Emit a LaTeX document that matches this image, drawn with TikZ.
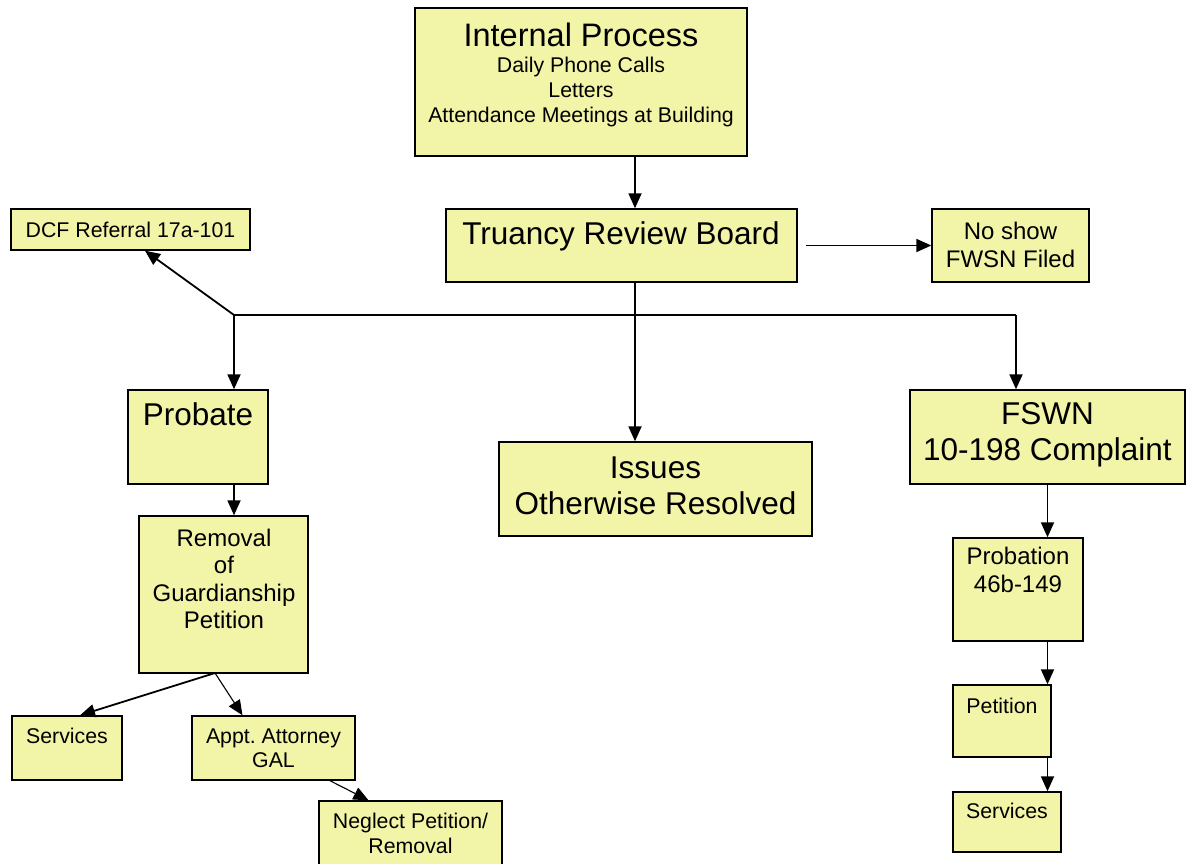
\documentclass[tikz,border=0pt]{standalone}
\usepackage{fontspec}
\setmainfont{Liberation Sans}
\usepackage{xcolor}
\usetikzlibrary{arrows.meta}
\definecolor{boxfill}{RGB}{242,244,168}
\newcommand{\fbig}{\fontsize{31.5}{35.5}\selectfont}
\newcommand{\fmid}{\fontsize{24}{27.5}\selectfont}
\newcommand{\fsml}{\fontsize{21.3}{24.5}\selectfont}
\tikzset{
  box/.style={draw=black, fill=boxfill, line width=1.4pt, inner sep=0pt},
  txt/.style={align=center, inner sep=0pt},
  arr/.style={line width=1.8pt, -{Triangle[length=15pt,width=13pt]}},
  thinarr/.style={line width=1.1pt, -{Triangle[length=15pt,width=13pt]}}
}

\begin{document}
\begin{tikzpicture}[x=1pt, y=-1pt]
    \useasboundingbox[fill=white] (0,0) rectangle (1188,864);
    % boxes
    \node[box, minimum width=332, minimum height=148] (internal) at (581,82) {};
    \node[box, minimum width=351, minimum height=73] (trb) at (621.5,245.5) {};
    \node[box, minimum width=239, minimum height=41] (dcf) at (130.5,229.5) {};
    \node[box, minimum width=157, minimum height=73] (noshow) at (1010.5,245.5) {};
    \node[box, minimum width=140, minimum height=94] (probate) at (198,437) {};
    \node[box, minimum width=313, minimum height=94] (issues) at (655.5,489) {};
    \node[box, minimum width=275, minimum height=94] (fswn) at (1047.5,437) {};
    \node[box, minimum width=169, minimum height=157] (removal) at (223.5,594.5) {};
    \node[box, minimum width=130, minimum height=103] (probation) at (1018,589.5) {};
    \node[box, minimum width=98, minimum height=72] (petition) at (1002,721) {};
    \node[box, minimum width=108, minimum height=60] (servR) at (1007,822) {};
    \node[box, minimum width=110, minimum height=64] (servL) at (67,748) {};
    \node[box, minimum width=163, minimum height=64] (appt) at (273.5,748) {};
    \node[box, minimum width=183, minimum height=65] (neglect) at (410.5,833.5) {};

    % texts
    \node[txt, font=\fontsize{21.3}{25}\selectfont, anchor=north] (internal-t) at (581,23)
      {{\fontsize{32.5}{33}\selectfont Internal Process}\\[1pt]
       Daily Phone Calls\\ Letters\\ Attendance Meetings at Building};
    \node[txt, font=\fbig] (trb-t) at (621,236) {Truancy Review Board};
    \node[txt, font=\fsml] (dcf-t) at (130.5,229.5) {DCF Referral 17a-101};
    \node[txt, font=\fmid] (noshow-t) at (1010.5,245) {No show\\ FWSN Filed};
    \node[txt, font=\fbig] (probate-t) at (198,414) {Probate};
    \node[txt, font=\fbig] (issues-t) at (655.5,486) {Issues\\ Otherwise Resolved};
    \node[txt, font=\fbig] (fswn-t) at (1047.5,435) {FSWN\\ 10-198 Complaint};
    \node[txt, font=\fmid] (removal-t) at (224,579) {Removal\\ of\\ Guardianship\\ Petition};
    \node[txt, font=\fmid] (probation-t) at (1018,570) {Probation\\ 46b-149};
    \node[txt, font=\fsml] (petition-t) at (1002,706) {Petition};
    \node[txt, font=\fsml] (servR-t) at (1007,811) {Services};
    \node[txt, font=\fsml] (servL-t) at (67,736) {Services};
    \node[txt, font=\fsml] (appt-t) at (273.5,748.5) {Appt.\ Attorney\\ GAL};
    \node[txt, font=\fsml] (neglect-t) at (410.5,833.5) {Neglect Petition/\\ Removal};

    % junctions
    \coordinate (spine) at (635,315);
    \coordinate (jl) at (234,315);
    \coordinate (jr) at (1016,315);
    \coordinate (rf) at (215,673);

    % connectors
    \draw[arr] (internal.south -| spine) -- (trb.north -| spine);
    \draw[arr] ([xshift=8]trb.east) -- (noshow.west);
    \draw[line width=1.8pt] (trb.south -| spine) -- (spine);
    \draw[arr] (spine) -- (issues.north -| spine);
    \draw[line width=1.8pt] (jl) -- (jr);
    \draw[arr] (jl) -- ([xshift=14.5]dcf.south);
    \draw[arr] (jl) -- (probate.north -| jl);
    \draw[arr] (jr) -- (fswn.north -| jr);
    \draw[arr] (probate.south -| jl) -- (removal.north -| jl);
    \draw[arr] (rf) -- ([xshift=13]servL.north);
    \draw[thinarr] (rf) -- ([xshift=-31]appt.north);
    \draw[thinarr] ([xshift=56.5]appt.south) -- ([xshift=-42]neglect.north);
    \draw[arr] (fswn.south) -- (probation.north -| fswn.south);
    \draw[arr] (probation.south -| fswn.south) -- (petition.north -| fswn.south);
    \draw[arr] (petition.south -| fswn.south) -- (servR.north -| fswn.south);
\end{tikzpicture}
\end{document}
